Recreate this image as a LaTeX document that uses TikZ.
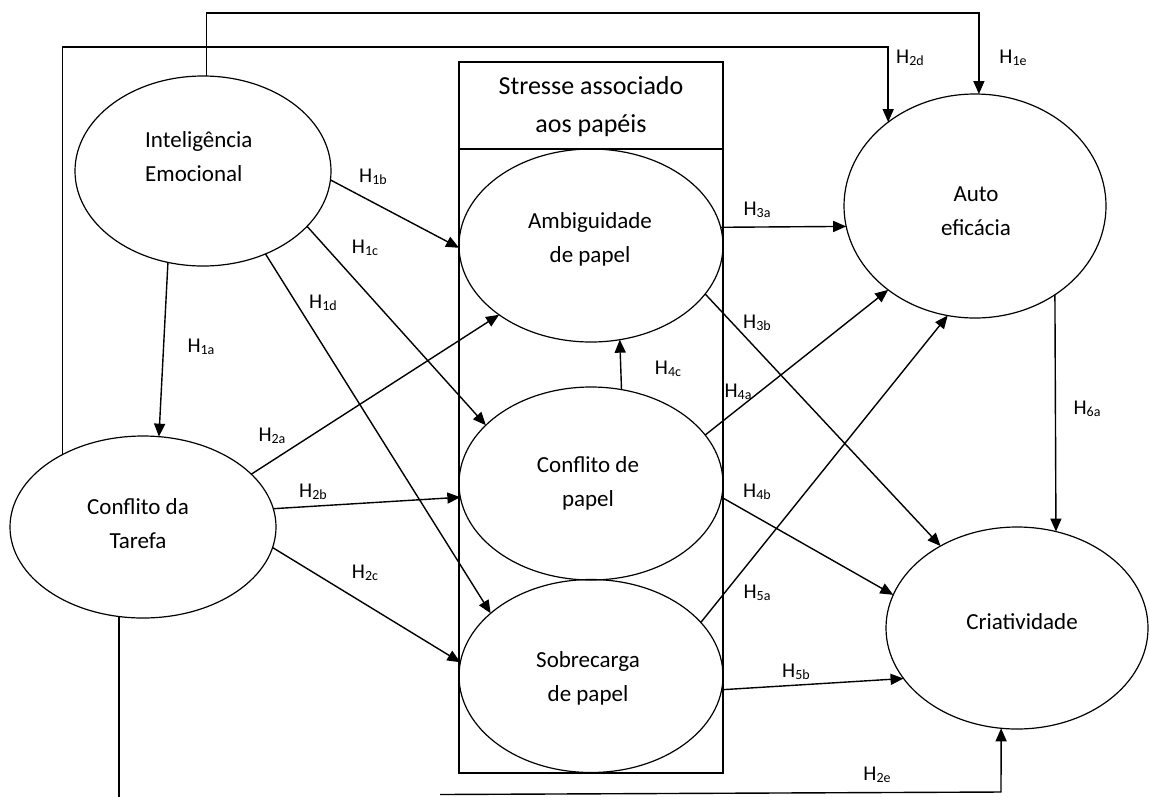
\documentclass[tikz,border=0pt]{standalone}
\usepackage{fontspec}
\setmainfont{Carlito}
\usetikzlibrary{arrows.meta,shapes.geometric}
\newcommand\hsub[1]{H\raisebox{-1.5pt}{\fontsize{14}{14}\selectfont #1}}
\begin{document}
\begin{tikzpicture}[x=1pt,y=-1pt,
  ell/.style={ellipse,draw,line width=1.2pt,inner sep=0pt,outer sep=0pt},
  arr/.style={line width=1.4pt,-{Triangle[length=13pt,width=11pt]}},
  ln/.style={line width=1.4pt},
  txt/.style={font=\fontsize{23}{34}\selectfont,align=center,inner sep=0pt},
  hdrtxt/.style={font=\fontsize{26}{38}\selectfont,align=center,inner sep=0pt},
  lab/.style={font=\fontsize{21}{21}\selectfont,inner sep=0pt},
  boxst/.style={draw,line width=1.8pt,inner sep=0pt,outer sep=0pt}
]
\useasboundingbox (0,0) rectangle (1150,796);
\fill[white] (0,0) rectangle (1150,796);
\clip (0,0) rectangle (1150,796);

% stress box
\node[boxst,minimum width=264pt,minimum height=711pt] (BOX) at (591,417.5) {};
\node[boxst,minimum width=264pt,minimum height=87pt] (HDR) at (591,105.5) {};
\node[hdrtxt] (tHDR) at (591,107) {Stresse associado\\aos papéis};

% ellipses
\node[ell,minimum width=256pt,minimum height=190pt] (IE) at (203,171) {};
\node[ell,minimum width=266pt,minimum height=182pt] (CT) at (143,527) {};
\node[ell,minimum width=264pt,minimum height=193pt] (AMB) at (591,245.5) {};
\node[ell,minimum width=264pt,minimum height=193pt] (CP) at (591,483.5) {};
\node[ell,minimum width=264pt,minimum height=193pt] (SOB) at (591,676) {};
\node[ell,minimum width=262pt,minimum height=224pt] (AE) at (975,206) {};
\node[ell,minimum width=262pt,minimum height=202pt] (CR) at (1017,628) {};

% texts
\node[txt,align=left,anchor=west] (tIE) at (145,157) {Inteligência\\Emocional};
\node[txt] (tCT) at (138,524) {Conflito da\\Tarefa};
\node[txt] (tAMB) at (590,239) {Ambiguidade\\de papel};
\node[txt] (tCP) at (588,483.5) {Conflito de\\papel};
\node[txt] (tSOB) at (588,678.5) {Sobrecarga\\de papel};
\node[txt] (tAE) at (976,211) {Auto\\eficácia};
\node[txt] (tCR) at (1022,622) {Criatividade};

% helper coordinates
\coordinate (yTop) at (0,13);
\coordinate (ySec) at (0,47);
\coordinate (yLow) at (0,805);
\coordinate (h2eS) at (440,794.5);
\coordinate (h2eC) at (1001,792);

% connectors
\draw[arr] (IE.88) -- (IE.88 |- yTop) -| (AE.88);
\draw[arr] (CT.138) -- (CT.138 |- ySec) -| (AE.136);
\draw[arr] (IE.249) -- (CT.80);
\draw[arr] (IE.356) -- (AMB.181);
\draw[arr] (IE.332) -- (CP.151);
\draw[arr] (IE.307) -- (SOB.148);
\draw[arr] (CT.26) -- (AMB.217);
\draw[arr] (CT.8) -- (CP.186);
\draw[arr] (CT.351) -- (SOB.174);
\draw[arr] (AMB.8) -- (AE.189);
\draw[arr] (AMB.337) -- (CR.133);
\draw[arr] (CP.72) -- (AMB.287);
\draw[arr] (CP.23) -- (AE.224);
\draw[arr] (CP.354) -- (CR.165);
\draw[arr] (SOB.26) -- (AE.256);
\draw[arr] (SOB.354) -- (CR.204);
\draw[arr] (AE.312) -- (CR.68);
\draw[ln] (CT.255) -- (CT.255 |- yLow);
\draw[arr] (h2eS) -- (h2eC) -- (CR.261);

% labels
\node[lab] (l1a) at (201,347) {\hsub{1a}};
\node[lab] (l1b) at (373,177) {\hsub{1b}};
\node[lab] (l1c) at (365,248) {\hsub{1c}};
\node[lab] (l1d) at (323,303) {\hsub{1d}};
\node[lab] (l1e) at (1013,58) {\hsub{1e}};
\node[lab] (l2a) at (272,436) {\hsub{2a}};
\node[lab] (l2b) at (313,492) {\hsub{2b}};
\node[lab] (l2c) at (365,573) {\hsub{2c}};
\node[lab] (l2d) at (910,58) {\hsub{2d}};
\node[lab] (l2e) at (877,775) {\hsub{2e}};
\node[lab] (l3a) at (757,210) {\hsub{3a}};
\node[lab] (l3b) at (757,323) {\hsub{3b}};
\node[lab] (l4a) at (738,392) {\hsub{4a}};
\node[lab] (l4b) at (757,492) {\hsub{4b}};
\node[lab] (l4c) at (668,369) {\hsub{4c}};
\node[lab] (l5a) at (757,593) {\hsub{5a}};
\node[lab] (l5b) at (796,672) {\hsub{5b}};
\node[lab] (l6a) at (1087,409) {\hsub{6a}};
\end{tikzpicture}
\end{document}
